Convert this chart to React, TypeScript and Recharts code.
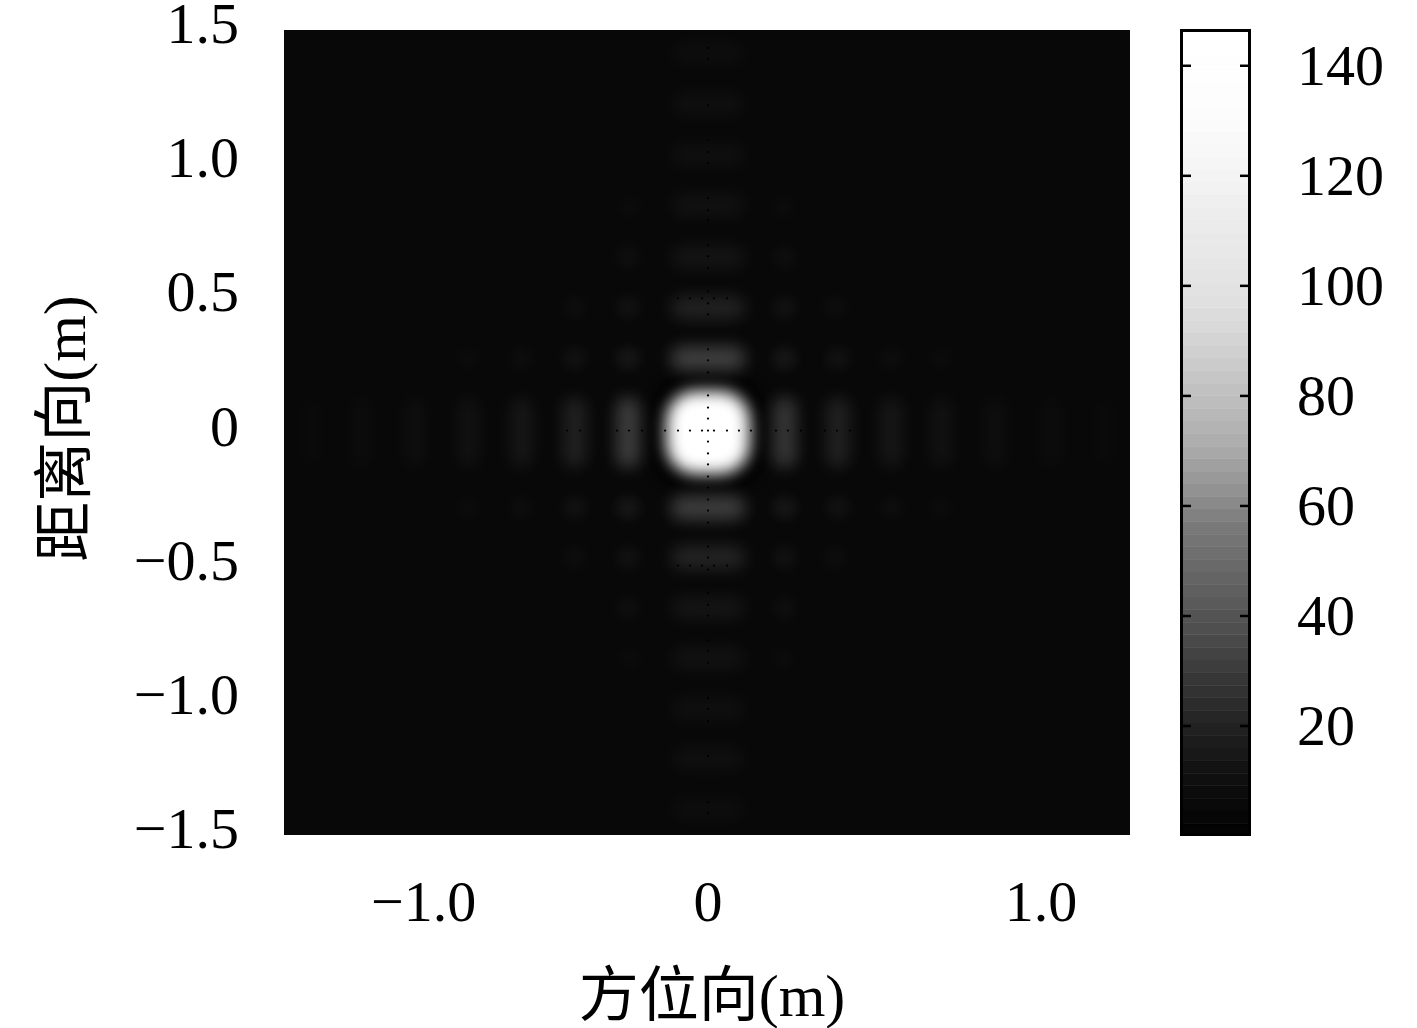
import { BarChart, Bar, CartesianGrid, Scatter, ScatterChart, XAxis, YAxis } from 'recharts';

// lobes along the range axis (x = 0)
const rangeLobeY = [1.414, 1.224, 1.034, 0.847, 0.653, 0.466, 0.276, -0.28, -0.466, -0.653, -0.84, -1.03, -1.216, -1.403];
const rangeLobeMag = [8, 9, 9, 10, 12, 19, 36, 35, 20, 12, 10, 9, 9, 8];

// lobes along the azimuth axis (y = 0)
const azimuthLobeX = [-1.19, -1.04, -0.88, -0.72, -0.56, -0.4, -0.24, 0.23, 0.39, 0.55, 0.7, 0.86, 1.03, 1.19];
const azimuthLobeMag = [6.5, 7.5, 8.5, 10, 13, 19, 35, 31, 19, 13, 10, 8.5, 7.5, 6.5];

// faint off-axis spots
const spotX = [-0.72, -0.56, -0.4, -0.24, 0.23, 0.39, 0.55, 0.7, -0.72, -0.56, -0.4, -0.24, 0.23, 0.39, 0.55, 0.7, -0.4, -0.24, 0.23, 0.38, -0.4, -0.24, 0.23, 0.38, -0.24, 0.23, -0.24, 0.23, -0.235, 0.225, -0.235, 0.225];
const spotY = [0.276, 0.276, 0.276, 0.276, 0.276, 0.276, 0.276, 0.276, -0.28, -0.28, -0.28, -0.28, -0.28, -0.28, -0.28, -0.28, 0.466, 0.466, 0.466, 0.466, -0.466, -0.466, -0.466, -0.466, 0.653, 0.653, -0.653, -0.653, 0.84, 0.84, -0.84, -0.84];
const spotMag = [7, 8, 10, 13, 13, 10, 8, 7, 7, 8, 10, 13, 13, 10, 8, 7, 8, 10, 10, 8, 8, 10, 10, 8, 8.5, 8.5, 8.5, 8.5, 7, 7, 7, 7];

// dark sample dots on the two axes and on the two short rows
const dotColY = [1.433, 1.392, 1.22, 1.09, 1.045, 1.004, 0.873, 0.828, 0.791, 0.698, 0.657, 0.612, 0.526, 0.481, 0.44, 0.31, 0.269, 0.224, 0.138, 0.093, 0.052, 0.007, -0.034, -0.078, -0.119, -0.164, -0.205, -0.25, -0.291, -0.336, -0.425, -0.466, -0.511, -0.597, -0.642, -0.683, -0.776, -0.813, -0.858, -0.989, -1.03, -1.075, -1.205, -1.377, -1.418];
const dotRowX = [-0.423, -0.384, -0.273, -0.237, -0.198, -0.129, -0.09, -0.054, -0.018, 0.018, 0.057, 0.093, 0.129, 0.204, 0.24, 0.279, 0.351, 0.387, 0.426];
const dotShortX = [-0.09, -0.054, -0.018, 0.018, 0.057];

const xTicks = [-1, 0, 1];
const yTicks = [-1.5, -1, -0.5, 0, 0.5, 1, 1.5];
const barTicks = [20, 40, 60, 80, 100, 120, 140];

// colorbar bands, bottom to top
const bandGrays = [
  3, 6, 9, 12, 15, 19, 24, 28, 33, 38, 44, 50, 55, 61, 67, 73,
  79, 84, 90, 95, 100, 105, 111, 116, 121, 129, 138, 146, 153, 160, 168, 174,
  179, 184, 189, 193, 198, 203, 208, 212, 217, 220, 224, 226, 228, 230, 232, 233,
  235, 237, 239, 242, 244, 246, 248, 249, 251, 252, 253, 253, 254, 254, 255, 255,
];
const BAND_STEP = 2.286;
const MAG_MIN = 0.2;
const MAG_MAX = 146.5;

const xDomain = [-1.273, 1.267];
const yDomain = [-1.5, 1.5];

const PLOT_W = 846;
const PLOT_H = 805;
const pxX = PLOT_W / (xDomain[1] - xDomain[0]);
const pxY = PLOT_H / (yDomain[1] - yDomain[0]);

const FONT = '"Liberation Serif", "Noto Sans CJK SC", serif';
const TICK_SIZE = 58;
const TITLE_SIZE = 60;
const BG_GRAY = 8;

const nullHalo = [{ x: 0, y: 0, w: 0.33, h: 0.4, mag: 0, blur: 6, round: 30 }];
const mainLobe = [{ x: 0, y: 0, w: 0.25, h: 0.31, mag: 146, blur: 8, round: 30 }];
const rangeLobes = rangeLobeY.map((y, i) => ({ x: 0, y, w: 0.225, h: 0.09, mag: rangeLobeMag[i], blur: 8, round: 12 }));
const azimuthLobes = azimuthLobeX.map((x, i) => ({ x, y: 0, w: 0.07, h: 0.26, mag: azimuthLobeMag[i], blur: 8, round: 10 }));
const spots = spotX.map((x, i) => ({ x, y: spotY[i], w: 0.075, h: 0.085, mag: spotMag[i], blur: 6, round: 12 }));
const lobes = [...nullHalo, ...spots, ...rangeLobes, ...azimuthLobes, ...mainLobe];

const dots = [
  ...dotColY.map((y) => ({ x: 0, y })),
  ...dotRowX.map((x) => ({ x, y: 0.007 })),
  ...dotShortX.map((x) => ({ x, y: 0.5 })),
  ...dotShortX.map((x) => ({ x, y: -0.496 })),
];

const bandRow: Record<string, number> = { name: 0 };
bandGrays.forEach((_, i) => {
  bandRow[`b${i}`] = BAND_STEP;
});

const fmt = (v: number) => (v === 0 ? '0' : `${v < 0 ? '\u2212' : ''}${Math.abs(v).toFixed(1)}`);

function LobeShape(props: any) {
  const { cx, cy, payload } = props;
  const w = payload.w * pxX;
  const h = payload.h * pxY;
  // white at low opacity over the background, a dim gray fill leaves dark rings once blurred
  const target = (payload.mag / 146) * 255;
  const white = payload.mag > 0;
  return (
    <rect
      x={cx - w / 2}
      y={cy - h / 2}
      width={w}
      height={h}
      rx={payload.round}
      ry={payload.round}
      fill={white ? '#fff' : '#000'}
      fillOpacity={white ? (target - BG_GRAY) / (255 - BG_GRAY) : 1}
      style={{ filter: `blur(${payload.blur}px)` }}
    />
  );
}

function DotShape(props: any) {
  return <circle cx={props.cx} cy={props.cy} r={1.1} fill="#000" />;
}

function XTick(props: any) {
  const { x, y, payload } = props;
  const negative = payload.value < 0;
  return (
    <text x={negative ? x - 4 : x} y={y + 86} fontFamily={FONT} fontSize={TICK_SIZE} fill="#000" textAnchor={negative ? 'start' : 'middle'}>
      {fmt(payload.value)}
    </text>
  );
}

function YTick(props: any) {
  const { x, y, payload } = props;
  return (
    <text x={x - 45} y={y + 13} fontFamily={FONT} fontSize={TICK_SIZE} fill="#000" textAnchor="end">
      {fmt(payload.value)}
    </text>
  );
}

function BarTick(props: any) {
  const { x, y, payload } = props;
  return (
    <g>
      <line x1={x - 69} x2={x - 59} y1={y} y2={y} stroke="#000" strokeWidth={2.5} />
      <line x1={x - 10} x2={x} y1={y} y2={y} stroke="#000" strokeWidth={2.5} />
      <text x={x + 47} y={y + 19} fontFamily={FONT} fontSize={TICK_SIZE} fill="#000">
        {payload.value}
      </text>
    </g>
  );
}

export default function App() {
  return (
    <div style={{ position: 'absolute', left: 0, top: 0, width: 1417, height: 1028, background: '#fff' }}>
      <div style={{ position: 'absolute', left: 0, top: 0 }}>
        <ScatterChart width={1417} height={1028} margin={{ top: 30, right: 287, bottom: 0, left: 0 }}>
          <CartesianGrid horizontal={false} vertical={false} fill="#080808" fillOpacity={1} />
          <XAxis
            type="number"
            dataKey="x"
            domain={xDomain}
            ticks={xTicks}
            height={193}
            axisLine={false}
            tickLine={false}
            tickSize={0}
            tickMargin={0}
            tick={<XTick />}
            interval={0}
            label={{
              value: '方位向(m)',
              position: 'insideBottom',
              offset: 12,
              dx: 5,
              style: { fontFamily: FONT, fontSize: TITLE_SIZE, fill: '#000' },
            }}
          />
          <YAxis
            type="number"
            dataKey="y"
            domain={yDomain}
            ticks={yTicks}
            width={284}
            axisLine={false}
            tickLine={false}
            tickSize={0}
            tickMargin={0}
            tick={<YTick />}
            interval={0}
            label={{
              value: '距离向(m)',
              angle: -90,
              position: 'insideLeft',
              offset: 64,
              dy: -4,
              style: { fontFamily: FONT, fontSize: TITLE_SIZE, fill: '#000', textAnchor: 'middle' },
            }}
          />
          <Scatter data={lobes} shape={<LobeShape />} isAnimationActive={false} />
          <Scatter data={dots} shape={<DotShape />} isAnimationActive={false} />
        </ScatterChart>
      </div>
      <div style={{ position: 'absolute', left: 0, top: 0 }}>
        <BarChart
          width={1417}
          height={1028}
          data={[bandRow]}
          margin={{ top: 30, right: 0, bottom: 193, left: 1181 }}
          barCategoryGap={0}
        >
          <XAxis dataKey="name" hide />
          <YAxis
            orientation="right"
            type="number"
            domain={[MAG_MIN, MAG_MAX]}
            ticks={barTicks}
            width={167}
            axisLine={false}
            tickLine={false}
            tickSize={0}
            tickMargin={0}
            tick={<BarTick />}
            interval={0}
            allowDataOverflow
          />
          {bandGrays.map((g, i) => (
            <Bar
              key={i}
              dataKey={`b${i}`}
              stackId="cb"
              fill={`rgb(${g},${g},${g})`}
              stroke={`rgb(${g},${g},${g})`}
              strokeWidth={0.6}
              isAnimationActive={false}
            />
          ))}
        </BarChart>
      </div>
      {/* colorbar frame sits above the bands */}
      <div
        style={{
          position: 'absolute',
          left: 1180,
          top: 29,
          width: 71,
          height: 807,
          boxSizing: 'border-box',
          border: '3px solid #000',
          pointerEvents: 'none',
        }}
      />
    </div>
  );
}
